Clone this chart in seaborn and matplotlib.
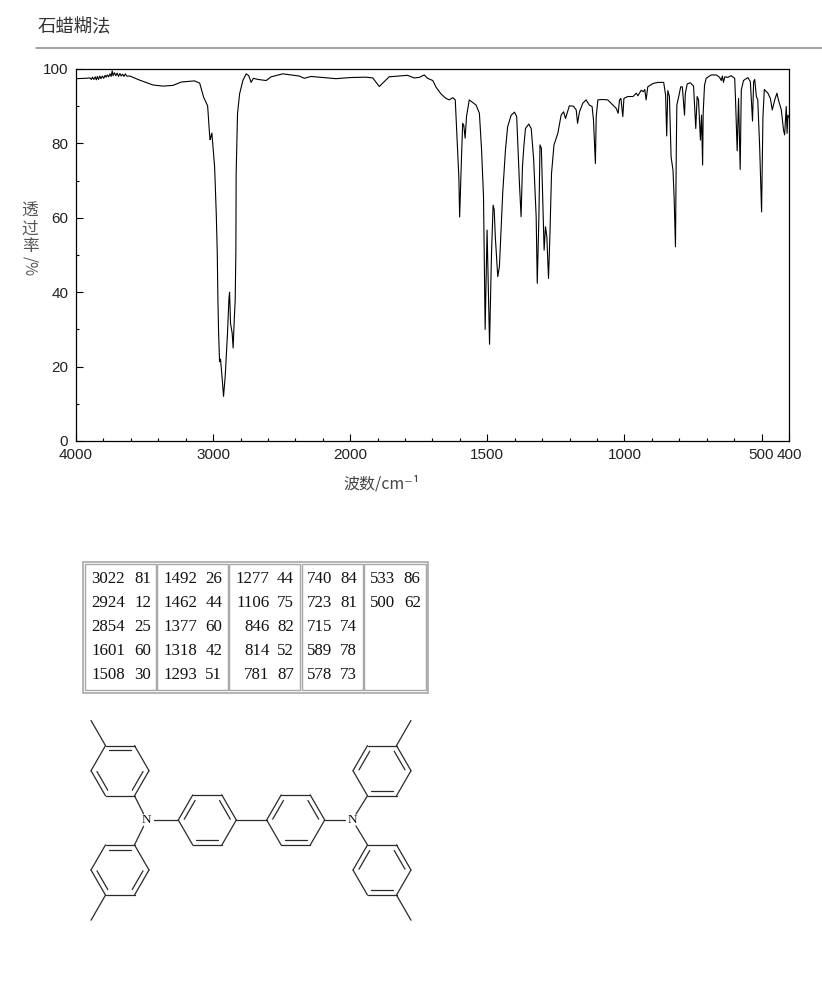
import numpy as np
import pandas as pd
import matplotlib
matplotlib.use("Agg")
import matplotlib.pyplot as plt
from matplotlib.patches import Rectangle
import seaborn as sns

# spectrum values
wavenumber = [4000, 3930, 3898, 3888, 3880, 3870, 3860, 3852, 3844, 3836, 3826, 3818, 3808, 3798, 3788, 3780,
              3772, 3762, 3752, 3744, 3736, 3730, 3720, 3710, 3700, 3690, 3680, 3670, 3660, 3650, 3640, 3630,
              3607, 3535, 3438, 3365, 3292, 3232, 3135, 3098, 3069, 3040, 3026, 3022, 3018, 3009, 2989, 2977,
              2970, 2965, 2960, 2953, 2946, 2933, 2924, 2912, 2904, 2895, 2885, 2880, 2873, 2861, 2854, 2846, 2839,
              2834, 2832, 2822, 2807, 2783, 2759, 2740, 2723, 2706, 2674, 2613, 2577, 2492, 2371, 2335, 2286,
              2104, 2000, 1943, 1918, 1894, 1858, 1791, 1767,
              1748, 1730, 1718, 1699, 1687, 1669, 1651, 1639, 1626, 1617, 1612, 1604, 1601, 1595, 1590, 1586,
              1581, 1576, 1566, 1541, 1529, 1521, 1514, 1508, 1501, 1492, 1485, 1479, 1475, 1471, 1462, 1456,
              1450, 1444, 1434, 1426, 1413, 1401, 1393, 1388, 1383, 1377, 1372, 1367, 1361, 1349, 1340, 1331,
              1322, 1318, 1312, 1308, 1303, 1298, 1293, 1288, 1283, 1277, 1272, 1266, 1257, 1243, 1231, 1222,
              1215, 1201, 1186, 1176, 1171, 1164, 1152, 1140, 1128, 1118, 1113, 1106, 1103, 1097, 1079, 1061,
              1042, 1030, 1023, 1018, 1013, 1006, 1002, 988, 969, 957, 951, 939, 931, 926, 921, 915,
              896, 878, 857, 850, 846, 842, 836, 830, 823, 819, 814, 811, 809, 801, 795, 789,
              781, 778, 771, 760, 748, 740, 735, 730, 723, 719, 715, 713, 708, 702, 684, 665,
              653, 647, 643, 639, 634, 623, 611, 598, 595, 589, 584, 578, 574, 566, 550, 541,
              533, 529, 525, 519, 514, 507, 500, 495, 490, 477, 468, 461, 452, 444, 439, 428,
              420, 416, 410, 407, 404, 400]
transmittance = [97.4, 97.5, 97.6, 97.2, 97.8, 97.2, 97.9, 97.1, 98.0, 97.2, 98.1, 97.4, 98.1, 97.5, 98.3, 97.8,
                 98.4, 97.9, 98.7, 98.0, 99.5, 98.2, 99.0, 98.2, 98.9, 98.0, 98.8, 98.1, 98.6, 98.0, 98.7, 98.1,
                 98.1, 97.0, 95.7, 95.4, 95.6, 96.5, 96.8, 96.2, 92.4, 90.1, 82.5, 81.0, 81.5, 82.8, 73.6, 61.0,
                 51.0, 38.0, 29.0, 21.3, 22.0, 16.4, 12.0, 17.3, 22.7, 29.0, 38.0, 40.0, 31.6, 29.0, 25.0, 32.5, 37.9,
                 51.0, 71.8, 88.0, 93.3, 96.9, 98.7, 98.2, 96.4, 97.5, 97.2, 96.9, 97.9, 98.7, 98.1, 97.5, 98.0,
                 97.4, 97.7, 97.8, 97.6, 95.3, 97.9, 98.3, 97.6,
                 97.75, 98.4, 97.5, 96.9, 95.1, 93.3, 92.1, 91.7, 92.3, 91.7, 83.6, 71.0, 60.2, 74.6, 85.4, 84.9,
                 81.4, 87.2, 91.7, 90.3, 88.1, 78.2, 65.7, 30.0, 56.7, 26.0, 50.0, 63.4, 62.1, 54.9, 44.2, 46.9,
                 56.7, 66.6, 78.2, 84.5, 87.6, 88.4, 87.2, 78.2, 69.3, 60.3, 73.7, 79.1, 84.0, 85.2, 84.0, 75.5,
                 60.3, 42.4, 60.3, 79.6, 78.7, 64.8, 51.3, 57.6, 54.9, 43.7, 54.9, 71.9, 79.6, 82.7, 87.6, 88.5,
                 86.7, 90.1, 90.0, 89.0, 85.4, 88.5, 90.8, 91.7, 90.3, 89.9, 86.3, 74.6, 87.2, 91.7, 91.8, 91.7,
                 90.3, 89.4, 88.1, 91.7, 92.1, 87.2, 92.1, 92.6, 92.6, 93.5, 92.8, 94.3, 93.9, 94.5, 91.7, 95.2,
                 96.1, 96.4, 96.4, 93.0, 82.0, 94.2, 92.6, 76.4, 72.8, 65.7, 52.2, 78.2, 90.3, 93.0, 95.2, 95.2,
                 87.6, 93.5, 96.0, 96.3, 95.4, 84.0, 92.6, 91.7, 80.9, 87.6, 74.2, 88.1, 95.7, 97.5, 98.4, 98.4,
                 97.75, 96.9, 98.1, 96.4, 97.9, 97.75, 98.2, 97.5, 91.7, 78.0, 92.1, 73.0, 94.3, 96.9, 97.7, 96.6,
                 86.0, 96.6, 97.2, 92.6, 91.8, 79.1, 61.6, 87.2, 94.5, 93.5, 92.1, 89.0, 91.7, 93.5, 91.8, 89.0,
                 83.6, 82.3, 89.9, 82.7, 87.6, 87.0]

# peak table
table_wavenumbers = [[3022, 2924, 2854, 1601, 1508],
                     [1492, 1462, 1377, 1318, 1293],
                     [1277, 1106, 846, 814, 781],
                     [740, 723, 715, 589, 578],
                     [533, 500]]
table_intensities = [[81, 12, 25, 60, 30],
                     [26, 44, 60, 42, 51],
                     [44, 75, 82, 52, 87],
                     [84, 81, 74, 78, 73],
                     [86, 62]]

x_major = [4000, 3000, 2000, 1500, 1000, 500, 400]
x_minor = [3800, 3600, 3400, 3200, 2800, 2600, 2400, 2200,
           1900, 1800, 1700, 1600, 1400, 1300, 1200, 1100,
           900, 800, 700, 600]
y_major = [0, 20, 40, 60, 80, 100]
y_minor = [10, 30, 50, 70, 90]

tick_font = ["Liberation Sans", "DejaVu Sans"]
cjk = ["Noto Sans CJK SC", "DejaVu Sans"]
serif = ["Liberation Serif", "DejaVu Serif"]

sns.set_style("white")
plt.rcParams["font.family"] = cjk

W, H = 822, 992
fig = plt.figure(figsize=(W / 100, H / 100), dpi=100)
ax = fig.add_axes([76 / W, 1 - 441 / H, (789 - 76) / W, (441 - 69) / H])

df = pd.DataFrame({"wavenumber": wavenumber, "transmittance": transmittance})
sns.lineplot(data=df, x="wavenumber", y="transmittance", sort=False, estimator=None,
             color="black", linewidth=0.8, ax=ax)


# above 2000 the axis is squeezed to half scale
def squeeze(x):
    x = np.asarray(x, dtype=float)
    return np.where(x <= 2000, x, 2000 + (x - 2000) / 2)


def unsqueeze(x):
    x = np.asarray(x, dtype=float)
    return np.where(x <= 2000, x, 2000 + (x - 2000) * 2)


ax.set_xscale("function", functions=(squeeze, unsqueeze))
ax.set_xlim(4000, 400)
ax.set_ylim(0, 100)
ax.set_xticks(x_major)
ax.set_xticks(x_minor, minor=True)
ax.set_yticks(y_major)
ax.set_yticks(y_minor, minor=True)
ax.set_xticklabels([str(v) for v in x_major], family=tick_font, fontsize=11, color="#222222")
ax.set_yticklabels([str(v) for v in y_major], family=tick_font, fontsize=11, color="#222222")
ax.tick_params(which="major", direction="in", length=5, width=0.8, color="black", left=True, bottom=True)
ax.tick_params(which="minor", direction="in", length=2.4, width=0.8, color="black", left=True, bottom=True)
ax.tick_params(axis="x", which="major", pad=5)
ax.tick_params(axis="y", which="major", pad=5.5)
ax.set_xlabel("")
ax.set_ylabel("")
for spine in ax.spines.values():
    spine.set_color("black")
    spine.set_linewidth(0.9)

# overlay in picture pixels for title, table and structure
over = fig.add_axes([0, 0, 1, 1], facecolor="none")
over.set_xlim(0, W)
over.set_ylim(H, 0)
over.axis("off")

over.text(38, 27, "石蜡糊法", fontsize=13.2, color="#333333", va="center", ha="left")
over.plot([36, W], [48, 48], color="#8c8c8c", linewidth=1.1)
over.text(382, 484, "波数/cm⁻¹", fontsize=11.5, color="#444444", va="center", ha="center")

for ch, yy in zip("透过率", [211, 229, 246]):
    over.text(30, yy, ch, fontsize=12, color="#555555", ha="center", va="center")
over.text(30, 266, "/%", fontsize=11, color="#555555", ha="center", va="center", rotation=-90)

# peak table
over.add_patch(Rectangle((83, 562), 344.5, 130.5, fill=False, edgecolor="#a8a8a8", linewidth=1.2))
cell_edges = [(85, 155.7), (157.3, 227.7), (229.3, 300), (301.7, 362.7), (364.3, 426)]
wn_right = [125, 197.3, 269.3, 332, 395]
val_right = [151, 222.3, 294, 357, 420.7]
rows_y = [579, 603, 627, 651, 675]
for c, (x0, x1) in enumerate(cell_edges):
    over.add_patch(Rectangle((x0, 563.7), x1 - x0, 126.5, fill=False, edgecolor="#a8a8a8", linewidth=1.0))
    for r, (wn, val) in enumerate(zip(table_wavenumbers[c], table_intensities[c])):
        over.text(wn_right[c], rows_y[r], str(wn), family=serif, fontsize=12.2, color="#111111",
                  ha="right", va="center")
        over.text(val_right[c], rows_y[r], str(val), family=serif, fontsize=12.2, color="#111111",
                  ha="right", va="center")


# structure: rings are flat topped hexagons, vertex 0 points right, counted clockwise on screen
R = 29.0
ANG = np.radians(np.arange(0, 360, 60))
INK = "#2a2a2a"


def vertex(c, i, r=R):
    return c[0] + r * np.cos(ANG[i % 6]), c[1] + r * np.sin(ANG[i % 6])


def bond(p, q):
    over.plot([p[0], q[0]], [p[1], q[1]], color=INK, linewidth=0.9, solid_capstyle="round")


def ring(c, double_edges):
    for i in range(6):
        bond(vertex(c, i), vertex(c, i + 1))
    for i in double_edges:
        a = np.array(vertex(c, i, R * 0.81))
        b = np.array(vertex(c, i + 1, R * 0.81))
        bond(a + (b - a) * 0.04, b - (b - a) * 0.04)


def toward(p, q, gap):
    p, q = np.array(p), np.array(q)
    return p + (q - p) / np.linalg.norm(q - p) * gap


# edge i joins vertex i and i+1: 1 bottom, 4 top, 2 lower left, 0 lower right, 3 upper left, 5 upper right
mid_l, mid_r = (207.3, 820), (295.7, 820)
up_l, low_l = (120, 770.7), (120, 870)
up_r, low_r = (382, 770.7), (382, 870)
n_l, n_r = (146.7, 820), (352.3, 820)

ring(mid_l, [1, 3, 5])
ring(mid_r, [1, 3, 5])
ring(up_l, [4, 2, 0])
ring(low_l, [4, 2, 0])
ring(up_r, [1, 3, 5])
ring(low_r, [1, 3, 5])

bond(vertex(mid_l, 0), vertex(mid_r, 3))
for n, targets in [(n_l, [vertex(mid_l, 3), vertex(up_l, 1), vertex(low_l, 5)]),
                   (n_r, [vertex(mid_r, 0), vertex(up_r, 2), vertex(low_r, 4)])]:
    for t in targets:
        bond(toward(n, t, 7), t)
    over.text(n[0], n[1], "N", family=serif, fontsize=9.5, color="#111111", ha="center", va="center")

# methyl groups
for c, i in [(up_l, 4), (low_l, 2), (up_r, 5), (low_r, 1)]:
    v = vertex(c, i)
    bond(v, (v[0] + R * np.cos(ANG[i]), v[1] + R * np.sin(ANG[i])))

fig.savefig("out.png", dpi=100, facecolor="white")
